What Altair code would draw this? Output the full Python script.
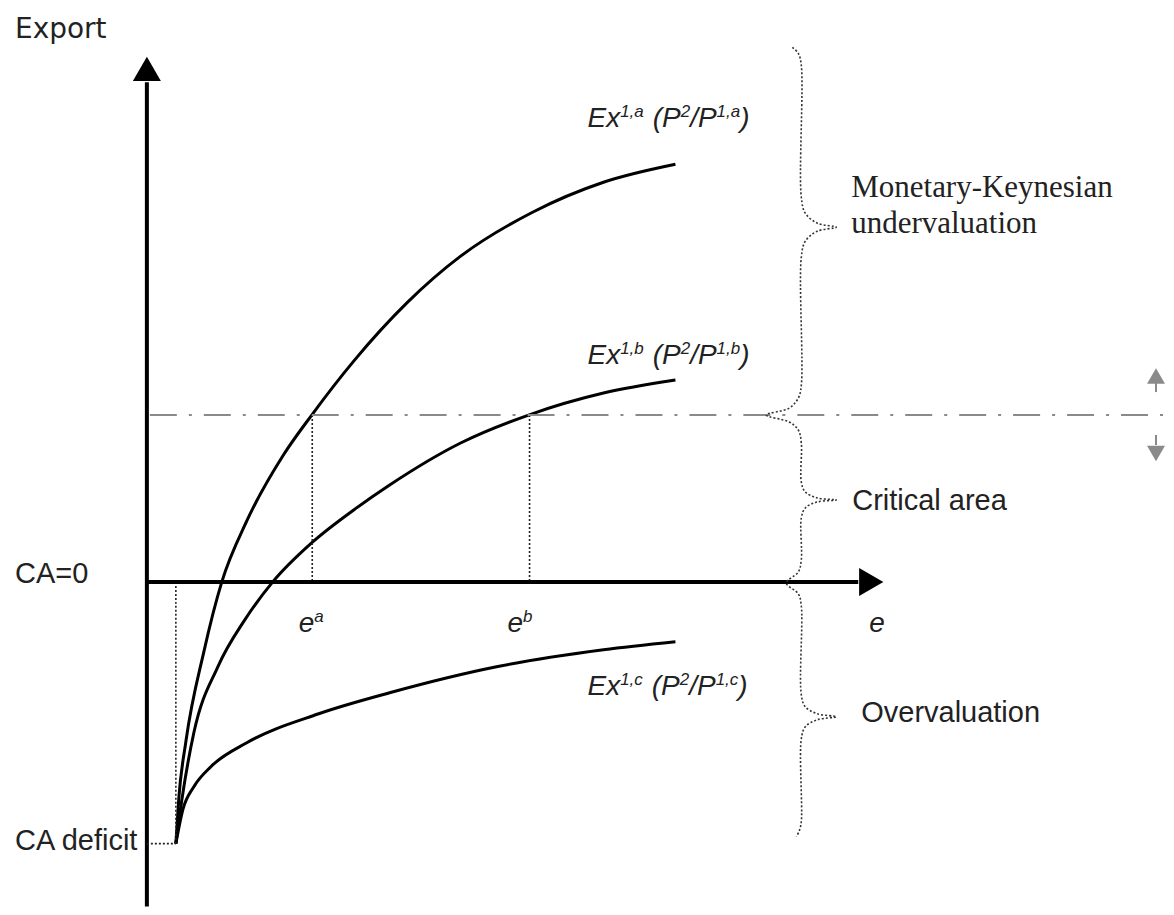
import altair as alt
import pandas as pd

# ---------------- data (diagram units: e along x, Export along y) ----------------
W, H = 1158, 899
X_DOMAIN = [-1.39, 10.19]
Y_DOMAIN = [-3.25, 5.74]
PX = W / (X_DOMAIN[1] - X_DOMAIN[0])  # pixels per unit

curve_a_e = [0.29, 0.32, 0.39, 0.57, 0.75, 1.00, 1.36, 1.65, 2.07, 2.61, 3.14, 3.86, 4.57, 5.29]
curve_a_ex = [-2.62, -2.16, -1.60, -0.70, 0.00, 0.61, 1.26, 1.67, 2.21, 2.80, 3.26, 3.70, 4.00, 4.18]
curve_b_e = [0.29, 0.35, 0.47, 0.71, 0.98, 1.26, 1.66, 2.07, 2.43, 3.14, 3.82, 4.57, 5.29]
curve_b_ex = [-2.62, -2.18, -1.51, -0.85, -0.38, 0.00, 0.40, 0.72, 0.97, 1.39, 1.67, 1.89, 2.02]
curve_c_e = [0.29, 0.36, 0.47, 0.64, 1.00, 1.72, 2.43, 3.50, 4.57, 5.29]
curve_c_ex = [-2.62, -2.28, -2.05, -1.85, -1.61, -1.32, -1.11, -0.85, -0.68, -0.60]

brace_x = [6.46, 6.52, 6.55, 6.55, 6.59, 6.71, 6.90, 6.71, 6.59, 6.55, 6.55, 6.52, 6.43, 6.20,
           6.43, 6.52, 6.55, 6.55, 6.59, 6.71, 6.90, 6.71, 6.59, 6.55, 6.55, 6.52, 6.40,
           6.52, 6.55, 6.55, 6.59, 6.71, 6.90, 6.71, 6.59, 6.55, 6.55, 6.53, 6.50]
brace_y = [5.35, 5.29, 5.17, 3.85, 3.69, 3.59, 3.55, 3.51, 3.41, 3.25, 1.97, 1.84, 1.74, 1.67,
           1.60, 1.52, 1.39, 1.00, 0.90, 0.84, 0.82, 0.80, 0.74, 0.64, 0.22, 0.10, -0.01,
           -0.12, -0.24, -1.13, -1.25, -1.32, -1.35, -1.38, -1.45, -1.57, -2.40, -2.49, -2.55]

ca_deficit = -2.62
start_e = 0.29
threshold = 1.67
e_a = 1.655
e_b = 3.83

xs = alt.Scale(domain=X_DOMAIN, nice=False, zero=False)
ys = alt.Scale(domain=Y_DOMAIN, nice=False, zero=False)


def X(f="x"):
    return alt.X(f"{f}:Q", scale=xs, axis=None)


def Y(f="y"):
    return alt.Y(f"{f}:Q", scale=ys, axis=None)


def rules(rows, **mark):
    df = pd.DataFrame(rows, columns=["x", "y", "x2", "y2"])
    return alt.Chart(df).mark_rule(**mark).encode(
        x=X("x"), y=Y("y"), x2="x2:Q", y2="y2:Q")


layers = []

# curves
rows = []
for name, es, exs in [("a", curve_a_e, curve_a_ex), ("b", curve_b_e, curve_b_ex),
                      ("c", curve_c_e, curve_c_ex)]:
    for i, (e, v) in enumerate(zip(es, exs)):
        rows.append({"curve": name, "i": i, "x": e, "y": v})
layers.append(alt.Chart(pd.DataFrame(rows)).mark_line(
    interpolate="monotone", color="black", strokeWidth=3).encode(
    x=X(), y=Y(), detail="curve:N", order="i:Q"))

# axes
layers.append(rules([[0, Y_DOMAIN[0], 0, 5.0]], color="black", strokeWidth=4))
layers.append(rules([[0, 0, 7.12, 0]], color="black", strokeWidth=4))
layers.append(alt.Chart(pd.DataFrame({"x": [0], "y": [5.135]})).mark_point(
    shape="triangle-up", filled=True, size=784, color="black", opacity=1).encode(x=X(), y=Y()))
layers.append(alt.Chart(pd.DataFrame({"x": [7.25], "y": [0]})).mark_point(
    shape="triangle-right", filled=True, size=784, color="black", opacity=1).encode(x=X(), y=Y()))

# dotted guides
layers.append(rules([[0, ca_deficit, start_e, ca_deficit],
                     [start_e, ca_deficit, start_e, -0.03],
                     [e_a, threshold, e_a, 0.02],
                     [e_b, threshold, e_b, 0.02]],
                    color="#222", strokeWidth=1.6, strokeDash=[2, 2]))

# dash-dot threshold line
layers.append(rules([[0.03, threshold, X_DOMAIN[1], threshold]],
                    color="#8a8a8a", strokeWidth=2, strokeDash=[27, 12, 3, 12]))

# gray up/down arrows
layers.append(rules([[10.10, 1.99, 10.10, 1.90], [10.10, 1.47, 10.10, 1.37]],
                    color="#8a8a8a", strokeWidth=2))
layers.append(alt.Chart(pd.DataFrame({"x": [10.10], "y": [2.06]})).mark_point(
    shape="triangle-up", filled=True, size=324, color="#8a8a8a", opacity=1).encode(x=X(), y=Y()))
layers.append(alt.Chart(pd.DataFrame({"x": [10.10], "y": [1.285]})).mark_point(
    shape="triangle-down", filled=True, size=324, color="#8a8a8a", opacity=1).encode(x=X(), y=Y()))

# braces
layers.append(alt.Chart(pd.DataFrame({"x": brace_x, "y": brace_y, "i": range(len(brace_x))}))
              .mark_line(interpolate="catmull-rom", color="#333", strokeWidth=1.6,
                         strokeDash=[2, 2]).encode(x=X(), y=Y(), order="i:Q"))


def texts(rows, **mark):
    df = pd.DataFrame(rows, columns=["x", "y", "t"])
    base = dict(align="left", baseline="alphabetic", color="#222")
    base.update(mark)
    return alt.Chart(df).mark_text(**base).encode(x=X(), y=Y(), text="t:N")


sans = "Liberation Sans, Arial, sans-serif"
layers.append(texts([[-1.32, 5.44, "Export"]], font="DejaVu Sans", fontSize=28))
layers.append(texts([[-1.32, -0.01, "CA=0"], [-1.32, -2.68, "CA deficit"],
                     [7.06, 0.72, "Critical area"], [7.15, -1.40, "Overvaluation"]],
                    font=sans, fontSize=29))
layers.append(texts([[7.05, 3.85, "Monetary-Keynesian"], [7.05, 3.49, "undervaluation"]],
                    font="Liberation Serif, Times New Roman, serif", fontSize=31))

# italic labels with superscripts
AW = {"E": .667, "x": .5, " ": .278, "(": .333, "P": .667, "/": .278, ")": .333,
      "1": .556, "2": .556, ",": .278, "a": .556, "b": .556, "c": .5, "e": .556}
MAIN, SUP = 28, 17


def composed(x0, y0, segs):
    main_rows, sup_rows = [], []
    off = 0.0
    for s, kind in segs:
        if kind == "gap":
            off += s
        elif kind == "sup":
            sup_rows.append([x0 + off / PX, y0 + 10 / PX, s])
            off += sum(AW[c] for c in s) * SUP
        else:
            main_rows.append([x0 + off / PX, y0, s])
            off += sum(AW[c] for c in s) * MAIN
    return main_rows, sup_rows


main_all, sup_all = [], []
for k, yb in zip(["a", "b", "c"], [4.55, 2.18, -1.13]):
    m, s = composed(4.41, yb, [("Ex", "main"), (f"1,{k}", "sup"), (9, "gap"), ("(P", "main"),
                               ("2", "sup"), ("/P", "main"), (f"1,{k}", "sup"), (")", "main")])
    main_all += m
    sup_all += s
for k, x0 in [("a", 1.52), ("b", 3.61)]:
    m, s = composed(x0, -0.50, [("e", "main"), (k, "sup")])
    main_all += m
    sup_all += s
main_all.append([7.23, -0.50, "e"])

layers.append(texts(main_all, font=sans, fontSize=MAIN, fontStyle="italic"))
layers.append(texts(sup_all, font=sans, fontSize=SUP, fontStyle="italic"))

chart = alt.layer(*layers).properties(width=W, height=H, padding=0, background="white") \
    .configure_view(stroke=None)

chart.save("out.html", embed_options={"renderer": "svg", "actions": False})
